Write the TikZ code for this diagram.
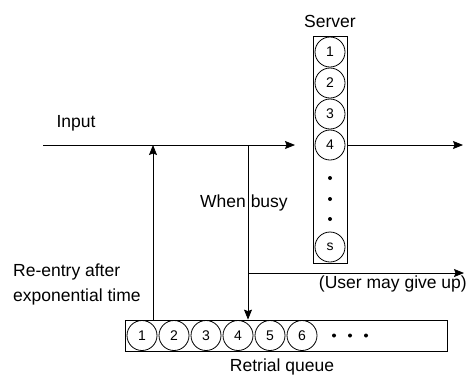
\documentclass[tikz,border=0pt]{standalone}
\usepackage{fontspec}
\setmainfont{Liberation Sans}
\usetikzlibrary{arrows.meta}
\begin{document}
\begin{tikzpicture}[x=1pt,y=-1pt,
  lbl/.style={font=\fontsize{17.5}{20}\selectfont, inner sep=0pt},
  num/.style={circle, draw, line width=0.8pt, minimum size=30pt, inner sep=0pt, font=\fontsize{14}{16}\selectfont},
  box/.style={draw, line width=0.8pt, inner sep=0pt},
  conn/.style={line width=0.8pt, -{Stealth[length=10pt,width=8pt,inset=1.5pt]}},
  dotn/.style={circle, fill, inner sep=0pt, minimum size=4pt}]
\useasboundingbox (0,0) rectangle (470,376);
% server
\node[box, minimum width=34pt, minimum height=227pt] (srv) at (330,149.5) {};
\node[lbl] (srvl) at (330,21) {Server};
\node[num] (s1) at (330,52) {1};
\node[num] (s2) at (330,83) {2};
\node[num] (s3) at (330,114) {3};
\node[num] (s4) at (330,145) {4};
\node[dotn] (sd1) at (330,178) {};
\node[dotn] (sd2) at (330,199) {};
\node[dotn] (sd3) at (330,219) {};
\node[num] (ss) at (330,247) {s};
% queue
\node[box, minimum width=322pt, minimum height=31pt] (q) at (286,335.5) {};
\node[num] (q1) at (142,335.5) {1};
\node[num] (q2) at (174,335.5) {2};
\node[num] (q3) at (206,335.5) {3};
\node[num] (q4) at (238,335.5) {4};
\node[num] (q5) at (270,335.5) {5};
\node[num] (q6) at (302,335.5) {6};
\node[dotn] (qd1) at (334,335.5) {};
\node[dotn] (qd2) at (350,335.5) {};
\node[dotn] (qd3) at (366,335.5) {};
\node[lbl] (ql) at (282,367) {Retrial queue};
% labels
\node[lbl] (inl) at (76,123) {Input};
\node[lbl, anchor=west] (wb) at (200,203) {When busy};
\node[lbl, anchor=west] (re1) at (13,272) {Re-entry after};
\node[lbl, anchor=west] (re2) at (13,297) {exponential time};
\node[lbl, anchor=east] (gu) at (467,284) {(User may give up)};
% coordinates
\coordinate (instart) at (43,145);
\coordinate (upx) at (153,145);
\coordinate (dnx) at (248,145);
\coordinate (br) at (248,273);
\coordinate (brend) at (464,273);
\coordinate (outend) at (463,145);
% connectors
\draw[conn] (instart) -- (s4.west -| 295,0);
\draw[conn] (q.north -| upx) -- (upx);
\draw[conn] (dnx) -- (q.north -| dnx);
\draw[conn] (br) -- (brend);
\draw[conn] (srv.east |- s4) -- (outend);
\end{tikzpicture}
\end{document}
